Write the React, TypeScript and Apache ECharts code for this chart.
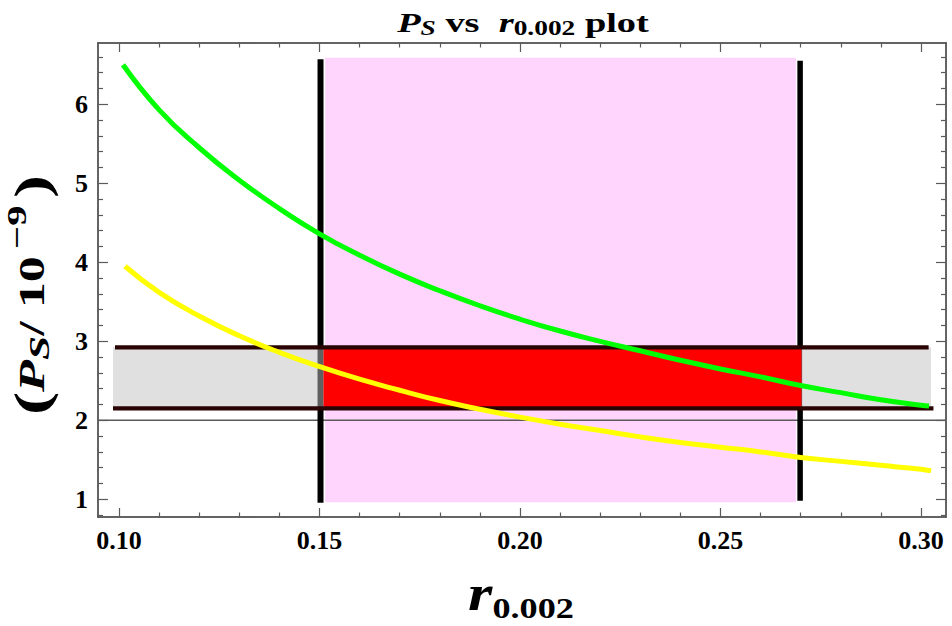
import React, { useEffect, useRef } from "react";
import * as echarts from "echarts";

// ---- data ----
const xMajorTicks = [0.1, 0.15, 0.2, 0.25, 0.3];
const xMinorTicks = [0.11, 0.12, 0.13, 0.14, 0.16, 0.17, 0.18, 0.19, 0.21, 0.22, 0.23, 0.24, 0.26, 0.27, 0.28, 0.29];
const yMajorTicks = [1, 2, 3, 4, 5, 6];
const yMinorTicks = [0.8, 1.2, 1.4, 1.6, 1.8, 2.2, 2.4, 2.6, 2.8, 3.2, 3.4, 3.6, 3.8, 4.2, 4.4, 4.6, 4.8, 5.2, 5.4, 5.6, 5.8, 6.2, 6.4, 6.6];

const greenR = [0.101, 0.11, 0.12, 0.13, 0.14, 0.15, 0.16, 0.17, 0.18, 0.19, 0.2, 0.21, 0.22, 0.23, 0.24, 0.25, 0.26, 0.27, 0.28, 0.29, 0.3, 0.302];
const greenPs = [6.5, 5.93, 5.45, 5.04, 4.68, 4.36, 4.09, 3.85, 3.64, 3.45, 3.28, 3.13, 3.0, 2.88, 2.76, 2.65, 2.55, 2.44, 2.35, 2.26, 2.19, 2.18];
const yellowR = [0.1015, 0.11, 0.12, 0.13, 0.14, 0.15, 0.16, 0.17, 0.18, 0.19, 0.2, 0.21, 0.22, 0.23, 0.24, 0.25, 0.26, 0.27, 0.28, 0.29, 0.3, 0.3025];
const yellowPs = [3.95, 3.62, 3.32, 3.07, 2.86, 2.68, 2.52, 2.38, 2.25, 2.14, 2.04, 1.95, 1.87, 1.79, 1.72, 1.66, 1.6, 1.53, 1.48, 1.43, 1.38, 1.36];

// observational band in P_S (lower, upper) and its r extent
const bandPs = [2.152, 2.924];
const bandR = [0.0985, 0.3025];
const bandTopLineR = [0.099, 0.3019];
const bandBottomLineR = [0.0985, 0.3031];
// allowed r window (vertical lines) and pink region
const windowR = [0.15025, 0.26985];
const windowPsLeft = [0.957, 6.57];
const windowPsRight = [0.982, 6.55];
const pinkR = [0.1514, 0.2688];
const pinkPs = [0.962, 6.59];
const redR = [0.151, 0.2702];
const axisLevel = 2;

// ---- axis extents ----
const X_MIN = 0.09476;
const X_MAX = 0.30623;
const Y_MIN = 0.776;
const Y_MAX = 6.776;

const SERIF = "'Liberation Serif', 'Times New Roman', serif";
const FRAME = "#5a5a5a";

function xAxisDef(position: string, ticks: number[], len: number, labels: boolean) {
  return {
    type: "value",
    position,
    min: X_MIN,
    max: X_MAX,
    axisLine: { show: true, onZero: false, lineStyle: { color: FRAME, width: 1.5 } },
    axisTick: { show: true, inside: true, length: len, customValues: ticks, lineStyle: { color: FRAME, width: 1.2 } },
    axisLabel: labels
      ? {
          show: true,
          customValues: xMajorTicks,
          formatter: (v: number) => v.toFixed(2),
          margin: 10,
          fontFamily: SERIF,
          fontWeight: "bold",
          fontSize: 26,
          color: "#000",
        }
      : { show: false },
    splitLine: { show: false },
  };
}

function yAxisDef(position: string, ticks: number[], len: number, labels: boolean) {
  return {
    type: "value",
    position,
    min: Y_MIN,
    max: Y_MAX,
    axisLine: { show: true, onZero: false, lineStyle: { color: FRAME, width: 1.5 } },
    axisTick: { show: true, inside: true, length: len, customValues: ticks, lineStyle: { color: FRAME, width: 1.2 } },
    axisLabel: labels
      ? {
          show: true,
          customValues: yMajorTicks,
          formatter: (v: number) => String(Math.round(v)),
          margin: 10,
          padding: [6, 0, 0, 0],
          fontFamily: SERIF,
          fontWeight: "bold",
          fontSize: 26,
          color: "#000",
        }
      : { show: false },
    splitLine: { show: false },
  };
}

export default function App() {
  const ref = useRef<HTMLDivElement>(null);

  useEffect(() => {
    if (!ref.current) return;
    const chart = echarts.init(ref.current, null, { renderer: "svg" });

    const renderShapes = (_params: any, api: any) => {
      const rect = (x0: number, x1: number, y0: number, y1: number, fill: string) => {
        const a = api.coord([x0, y1]);
        const b = api.coord([x1, y0]);
        return { type: "rect", shape: { x: a[0], y: a[1], width: b[0] - a[0], height: b[1] - a[1] }, style: { fill } };
      };
      const seg = (x0: number, y0: number, x1: number, y1: number, stroke: string, w: number) => {
        const a = api.coord([x0, y0]);
        const b = api.coord([x1, y1]);
        return { type: "line", shape: { x1: a[0], y1: a[1], x2: b[0], y2: b[1] }, style: { stroke, lineWidth: w } };
      };
      const leftLine = api.coord([windowR[0], 0]);
      const rightLine = api.coord([windowR[1], 0]);
      const stripW = 3;
      const bandTop = api.coord([0, bandPs[1]])[1];
      const bandBot = api.coord([0, bandPs[0]])[1];
      return {
        type: "group",
        children: [
          rect(pinkR[0], pinkR[1], pinkPs[0], pinkPs[1], "#ffd5fe"),
          seg(X_MIN, axisLevel, X_MAX, axisLevel, "#5a5a5a", 1.5),
          seg(windowR[0], windowPsLeft[0], windowR[0], windowPsLeft[1], "#000", 6),
          seg(windowR[1], windowPsRight[0], windowR[1], windowPsRight[1], "#000", 5.5),
          rect(bandR[0], bandR[1], bandPs[0], bandPs[1], "#e0e0e0"),
          {
            type: "rect",
            shape: { x: leftLine[0] - stripW, y: bandTop, width: stripW + 3, height: bandBot - bandTop },
            style: { fill: "#606060" },
          },
          {
            type: "rect",
            shape: { x: rightLine[0] - 1, y: bandTop, width: stripW, height: bandBot - bandTop },
            style: { fill: "#606060" },
          },
          rect(redR[0], redR[1], bandPs[0], bandPs[1], "#ff0000"),
          seg(bandTopLineR[0], bandPs[1], bandTopLineR[1], bandPs[1], "#2a0303", 4.3),
          seg(bandBottomLineR[0], bandPs[0], bandBottomLineR[1], bandPs[0], "#2a0303", 4.3),
        ],
      };
    };

    const option: any = {
      animation: false,
      backgroundColor: "#fff",
      grid: { left: 98, right: 6, top: 43, bottom: 109, containLabel: false },
      xAxis: [
        xAxisDef("bottom", xMajorTicks, 9, true),
        xAxisDef("top", xMajorTicks, 9, false),
        xAxisDef("bottom", xMinorTicks, 4.5, false),
        xAxisDef("top", xMinorTicks, 4.5, false),
      ],
      yAxis: [
        yAxisDef("left", yMajorTicks, 10, true),
        yAxisDef("right", yMajorTicks, 10, false),
        yAxisDef("left", yMinorTicks, 5, false),
        yAxisDef("right", yMinorTicks, 5, false),
      ],
      series: [
        {
          type: "custom",
          xAxisIndex: 0,
          yAxisIndex: 0,
          renderItem: renderShapes,
          data: [[bandR[0], bandPs[0]]],
          silent: true,
          z: 1,
        },
        {
          type: "line",
          name: "green",
          xAxisIndex: 0,
          yAxisIndex: 0,
          data: greenR.map((r, i) => [r, greenPs[i]]),
          showSymbol: false,
          symbol: "none",
          smooth: true,
          lineStyle: { color: "#00ff00", width: 5, cap: "butt" },
          z: 3,
        },
        {
          type: "line",
          name: "yellow",
          xAxisIndex: 0,
          yAxisIndex: 0,
          data: yellowR.map((r, i) => [r, yellowPs[i]]),
          showSymbol: false,
          symbol: "none",
          smooth: true,
          lineStyle: { color: "#ffff00", width: 5, cap: "butt" },
          z: 3,
        },
      ],
      graphic: [
        {
          type: "text",
          x: 523,
          y: 22,
          scaleX: 1.37,
          style: {
            text: "{pi|P}{ps|S}{b| vs  }{ri|r}{rs|0.002}{b| plot}",
            align: "center",
            verticalAlign: "middle",
            rich: {
              pi: { fontFamily: SERIF, fontSize: 28, fontWeight: "bold", fontStyle: "italic", fill: "#000" },
              ps: { fontFamily: SERIF, fontSize: 20, fontWeight: "bold", fontStyle: "italic", fill: "#000", padding: [13, 0, 0, 0] },
              b: { fontFamily: SERIF, fontSize: 28, fontWeight: "bold", fill: "#000" },
              ri: { fontFamily: SERIF, fontSize: 28, fontWeight: "bold", fontStyle: "italic", fill: "#000" },
              rs: { fontFamily: SERIF, fontSize: 20, fontWeight: "bold", fill: "#000", padding: [12, 0, 0, 0] },
            },
          },
        },
        {
          type: "text",
          x: 521,
          y: 593,
          scaleX: 1.25,
          style: {
            text: "{ri|r}{rs|0.002}",
            align: "center",
            verticalAlign: "middle",
            rich: {
              ri: { fontFamily: SERIF, fontSize: 50, fontWeight: "bold", fontStyle: "italic", fill: "#000" },
              rs: { fontFamily: SERIF, fontSize: 29, fontWeight: "bold", fill: "#000", padding: [30, 0, 0, 0] },
            },
          },
        },
        {
          type: "text",
          x: 31.5,
          y: 295,
          rotation: Math.PI / 2,
          scaleX: 1.45,
          style: {
            text: "{lp|(}{pi|P}{ps|S}{b|/ 10}{sp| }{sup|\u22129}{sp| }{rp|)}",
            align: "center",
            verticalAlign: "middle",
            rich: {
              lp: { fontFamily: SERIF, fontSize: 48, fontWeight: "bold", fill: "#000" },
              rp: { fontFamily: SERIF, fontSize: 48, fontWeight: "bold", fill: "#000" },
              pi: { fontFamily: SERIF, fontSize: 36, fontWeight: "bold", fontStyle: "italic", fill: "#000" },
              ps: { fontFamily: SERIF, fontSize: 30, fontWeight: "bold", fontStyle: "italic", fill: "#000", padding: [14, 0, 0, 0] },
              b: { fontFamily: SERIF, fontSize: 36, fontWeight: "bold", fill: "#000" },
              sp: { fontFamily: SERIF, fontSize: 20, fill: "#000" },
              sup: { fontFamily: SERIF, fontSize: 28, fontWeight: "bold", fill: "#000", padding: [0, 0, 30, 0] },
            },
          },
        },
      ],
    };

    chart.setOption(option);
    return () => chart.dispose();
  }, []);

  return <div ref={ref} style={{ position: "absolute", left: 0, top: 0, width: 952, height: 626 }} />;
}
